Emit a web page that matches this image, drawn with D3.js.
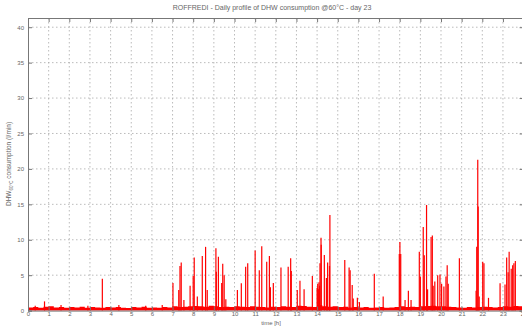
<!DOCTYPE html>
<html>
<head>
<meta charset="utf-8">
<script src="https://cdn.jsdelivr.net/npm/d3@7"></script>
<style>
  body { margin: 0; background: #fff; }
  text { font-family: "Liberation Sans", Arial, sans-serif; fill: #666; }
</style>
</head>
<body>
<div id="chart"></div>
<script>
// Data
var xTicks = d3.range(0, 25);
var yTicks = [0, 5, 10, 15, 20, 25, 30, 35, 40];

// low background draw-off, one value every 15 minutes (l/min)
var baseTimes = d3.range(0, 24.01, 0.25);
var baseValues = [
  0.45, 0.5, 0.4, 0.55, 0.6, 0.45, 0.5, 0.4,
  0.5, 0.45, 0.55, 0.4, 0.5, 0.45, 0.4, 0.5,
  0.45, 0.5, 0.4, 0.35, 0.5, 0.45, 0.55, 0.4,
  0.45, 0.4, 0.5, 0.45, 0.6, 0.5, 0.55, 0.6,
  0.65, 0.6, 0.55, 0.7, 0.6, 0.5, 0.55, 0.5,
  0.6, 0.55, 0.5, 0.6, 0.55, 0.5, 0.45, 0.55,
  0.5, 0.6, 0.55, 0.5, 0.7, 0.65, 0.55, 0.5,
  0.8, 0.6, 0.55, 0.6, 0.5, 0.55, 0.45, 0.5,
  0.45, 0.5, 0.4, 0.45, 0.5, 0.4, 0.45, 0.5,
  0.6, 0.5, 0.55, 0.5, 0.6, 0.65, 0.7, 0.6,
  0.6, 0.55, 0.5, 0.45, 0.4, 0.5, 0.45, 0.5,
  0.55, 0.5, 0.45, 0.5, 0.6, 0.55, 0.65, 0.6,
  0.5
];

// draw-off peaks: time [h] and flow (l/min)
var peakTimes = [
  0.35, 0.8, 1.6, 2.9, 3.6, 4.4, 5.7, 6.5,
  7.02, 7.3, 7.36, 7.42, 7.55, 7.85, 8.0, 8.05, 8.2,
  8.44, 8.6, 8.68, 9.1, 9.12, 9.22, 9.38, 9.43, 9.5, 9.58,
  10.14, 10.33, 10.54, 10.64, 11.0, 11.2, 11.32, 11.56, 11.69, 11.74, 11.88,
  12.25, 12.6, 12.72, 12.75, 13.04, 13.17, 13.37, 13.77,
  14.0, 14.03, 14.06, 14.09, 14.12, 14.14, 14.19, 14.2, 14.35, 14.45, 14.51, 14.6, 14.62,
  15.34, 15.55, 15.6, 15.7, 15.75, 15.95, 16.05, 16.77, 17.2,
  17.98, 18.01, 18.05, 18.26, 18.42, 18.55, 18.95, 19.0, 19.14, 19.19, 19.3, 19.35,
  19.52, 19.58, 19.62, 19.7, 19.84, 19.95, 20.03, 20.14, 20.24, 20.3, 20.35, 20.89,
  21.7, 21.73, 21.78, 21.8, 21.85, 22.02, 22.08, 22.3, 22.86,
  23.1, 23.18, 23.25, 23.3, 23.4, 23.47, 23.53, 23.6
];
var peakValues = [
  0.7, 1.3, 0.8, 0.7, 4.5, 0.8, 0.7, 0.8,
  3.9, 2.9, 6.3, 6.8, 1.5, 3.5, 4.9, 7.5, 2.0,
  7.7, 9.0, 2.9, 8.8, 5.5, 7.6, 3.9, 6.6, 5.0, 1.6,
  2.9, 3.85, 6.2, 6.7, 8.5, 5.7, 9.1, 6.9, 7.7, 3.3, 3.9,
  6.1, 6.2, 7.4, 5.6, 2.9, 4.2, 3.0, 4.9,
  3.2, 3.8, 3.0, 4.0, 3.5, 6.7, 10.3, 9.3, 7.85, 4.6, 6.8, 6.3, 13.5,
  7.15, 6.1, 5.7, 3.6, 1.7, 1.8, 1.2, 5.2, 2.0,
  8.0, 9.7, 8.0, 1.5, 2.8, 1.5, 8.3, 4.8, 11.8, 7.8, 14.9, 3.0,
  10.4, 10.6, 3.5, 4.1, 5.0, 5.1, 3.8, 3.4, 4.8, 6.4, 3.8, 7.4,
  2.8, 9.0, 21.3, 14.7, 2.0, 6.9, 6.7, 1.8, 3.85,
  3.7, 7.5, 5.4, 8.3, 5.9, 6.4, 6.7, 7.0
];

// 1. SVG size and plot box
var svgWidth = 522;
var svgHeight = 326;
var plotLeft = 28, plotTop = 18, plotBottom = 310.6;

var svg = d3.select("#chart").append("svg")
    .attr("width", svgWidth)
    .attr("height", svgHeight);

svg.append("rect").attr("width", svgWidth).attr("height", svgHeight).attr("fill", "#fff");

// 2. Scales
var x = d3.scaleLinear().domain([0, 24]).range([plotLeft, plotLeft + 24 * 20.65]);
var y = d3.scaleLinear().domain([0, 41.3]).range([plotBottom, plotTop]);
var plotRight = x(24);

// 3. Grid (dotted, matlab style)
var grid = svg.append("g");
grid.selectAll(".vgrid")
    .data(xTicks.slice(1))
    .enter().append("line")
    .attr("x1", d => x(d)).attr("x2", d => x(d))
    .attr("y1", plotTop).attr("y2", plotBottom)
    .attr("stroke", "#aaa").attr("stroke-width", 0.8)
    .attr("stroke-dasharray", "1.5,2.5");
grid.selectAll(".hgrid")
    .data(yTicks.slice(1))
    .enter().append("line")
    .attr("x1", plotLeft).attr("x2", plotRight)
    .attr("y1", d => y(d)).attr("y2", d => y(d))
    .attr("stroke", "#aaa").attr("stroke-width", 0.8)
    .attr("stroke-dasharray", "1.5,2.5");

// 4. Background band
var area = d3.area()
    .curve(d3.curveStepAfter)
    .x((d, i) => x(baseTimes[i]))
    .y0(y(0))
    .y1(d => y(d));
svg.append("path")
    .datum(baseValues)
    .attr("d", area)
    .attr("fill", "#f00");

// 5. Peaks
svg.selectAll(".peak")
    .data(peakTimes)
    .enter().append("line")
    .attr("class", "peak")
    .attr("x1", d => x(d)).attr("x2", d => x(d))
    .attr("y1", y(0))
    .attr("y2", (d, i) => y(peakValues[i]))
    .attr("stroke", "#f00")
    .attr("stroke-width", 1.2);

// 6. Axes (ticks inside)
var bottomAxis = d3.axisBottom(x).tickValues(xTicks).tickSize(-4).tickPadding(1.5);
var leftAxis = d3.axisLeft(y).tickValues(yTicks).tickSize(-4).tickPadding(4);
var topAxis = d3.axisTop(x).tickValues(xTicks).tickSize(-4).tickFormat("");
var rightAxis = d3.axisRight(y).tickValues(yTicks).tickSize(-4).tickFormat("");

function styleAxis(g) {
  g.select(".domain").attr("stroke", "#777");
  g.selectAll(".tick line").attr("stroke", "#777");
  g.selectAll(".tick text").attr("font-size", "6px").attr("fill", "#666")
    .style("font-family", "Liberation Sans, Arial, sans-serif");
}

svg.append("g").attr("transform", `translate(0, ${plotBottom})`).call(bottomAxis).call(styleAxis);
svg.append("g").attr("transform", `translate(${plotLeft}, 0)`).call(leftAxis).call(styleAxis);
svg.append("g").attr("transform", `translate(0, ${plotTop})`).call(topAxis).call(styleAxis);
svg.append("g").attr("transform", `translate(${plotRight}, 0)`).call(rightAxis).call(styleAxis);

// 7. Labels
svg.append("text")
    .attr("x", 272).attr("y", 10)
    .attr("text-anchor", "middle")
    .attr("font-size", "7px")
    .text("ROFFREDI - Daily profile of DHW consumption @60°C - day 23");

svg.append("text")
    .attr("x", 271).attr("y", 324.5)
    .attr("text-anchor", "middle")
    .attr("font-size", "6px")
    .text("time [h]");

var ylab = svg.append("text")
    .attr("transform", `translate(11, 164) rotate(-90)`)
    .attr("text-anchor", "middle")
    .attr("font-size", "6.5px");
ylab.append("tspan").text("DHW");
ylab.append("tspan").attr("font-size", "4.5px").attr("dy", 2).text("60°C");
ylab.append("tspan").attr("dy", -2).text(" consumption (l/min)");
</script>
</body>
</html>
